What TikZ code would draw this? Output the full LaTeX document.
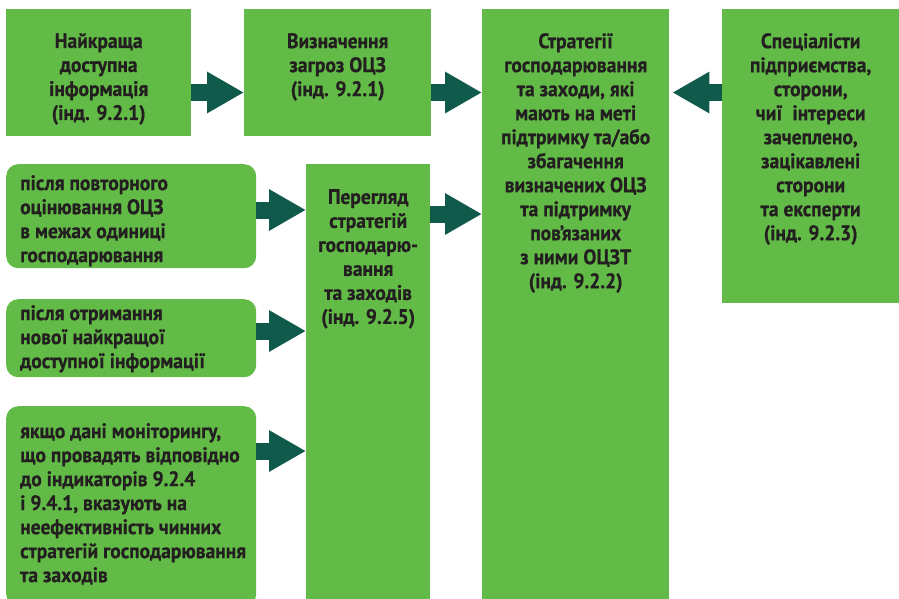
\documentclass[tikz,border=0pt]{standalone}
\usepackage{fontspec}
\setmainfont{PT Sans}[FakeStretch=0.93, BoldFeatures={FakeBold=0.6}]
\usetikzlibrary{positioning,calc,arrows.meta}

\definecolor{boxgreen}{HTML}{62BB46}
\definecolor{arrowteal}{HTML}{0F5A4B}
\definecolor{inktext}{HTML}{231F20}

\tikzset{
  greenbox/.style={fill=boxgreen, draw=none, inner sep=0pt, anchor=north west},
  softbox/.style={greenbox, rounded corners=12pt},
  boxtext/.style={anchor=north, align=center, text=inktext, inner sep=0pt,
    font=\fontsize{21}{24}\selectfont\bfseries,
    execute at begin node={\rule{0pt}{20pt}}},
  lefttext/.style={boxtext, anchor=north west, align=left},
  bigarrow/.style={draw=arrowteal, line width=17pt, -{Triangle[length=37pt,width=39pt]}}
}

\begin{document}
\begin{tikzpicture}[x=1pt, y=-1pt]
    \useasboundingbox (0,0) rectangle (899,598);

    % top row
    \node[greenbox, minimum width=185pt, minimum height=127pt] (best) at (6,9) {};
    \node[greenbox, minimum width=187pt, minimum height=127pt] (threat) at (244,9) {};
    \node[greenbox, minimum width=187pt, minimum height=595pt] (strat) at (482,9) {};
    \node[greenbox, minimum width=177pt, minimum height=294pt] (experts) at (722,9) {};

    % review column and triggers
    \node[greenbox, minimum width=124pt, minimum height=440pt] (review) at (306,164) {};
    \node[softbox, minimum width=250pt, minimum height=104pt] (reassess) at (6,164) {};
    \node[softbox, minimum width=250pt, minimum height=78pt] (newinfo) at (6,299) {};
    \node[softbox, minimum width=250pt, minimum height=200pt] (monitor) at (6,406) {};

    % texts
    \node[boxtext] (bestTxt) at (best.north |- 0,33) {Найкраща\\доступна\\інформація\\ (інд. 9.2.1)};
    \node[boxtext] (threatTxt) at (threat.north |- 0,33) {Визначення\\загроз ОЦЗ\\ (інд. 9.2.1)};
    \node[boxtext] (stratTxt) at (strat.north |- 0,33) {Стратегії\\господарювання\\та заходи, які\\мають на меті\\підтримку та/або\\збагачення\\визначених ОЦЗ\\та підтримку\\пов’язаних\\з ними ОЦЗТ\\ (інд. 9.2.2)};
    \node[boxtext] (expertsTxt) at (experts.north |- 0,33) {Спеціалісти\\підприємства,\\сторони,\\чиї~ інтереси\\зачеплено,\\зацікавлені\\сторони\\та експерти\\ (інд. 9.2.3)};
    \node[boxtext] (reviewTxt) at (review.north |- 0,189) {Перегляд\\стратегій\\господарю-\\вання\\та заходів\\(інд. 9.2.5)};
    \node[lefttext] (reassessTxt) at (20,175) {після повторного\\оцінювання ОЦЗ\\в межах одиниці\\господарювання};
    \node[lefttext] (newinfoTxt) at (20,305) {після отримання\\нової найкращої\\доступної інформації};
    \node[lefttext] (monitorTxt) at (20,423) {якщо дані моніторингу,\\що провадять відповідно\\до індикаторів 9.2.4\\і 9.4.1, вказують на\\неефективність чинних\\стратегій господарювання\\та заходів};

    % arrow rows
    \coordinate (rowA) at (0,92.5);
    \coordinate (rowB) at (0,210);
    \coordinate (rowC) at (0,214);
    \coordinate (rowD) at (0,331);
    \coordinate (rowE) at (0,451);

    \draw[bigarrow] (best.east |- rowA) -- (threat.west |- rowA);
    \draw[bigarrow] (threat.east |- rowA) -- (strat.west |- rowA);
    \draw[bigarrow] (experts.west |- rowA) -- ([xshift=3pt]strat.east |- rowA);
    \draw[bigarrow] (reassess.east |- rowB) -- (review.west |- rowB);
    \draw[bigarrow] (review.east |- rowC) -- (strat.west |- rowC);
    \draw[bigarrow] (newinfo.east |- rowD) -- (review.west |- rowD);
    \draw[bigarrow] (monitor.east |- rowE) -- (review.west |- rowE);
\end{tikzpicture}
\end{document}
